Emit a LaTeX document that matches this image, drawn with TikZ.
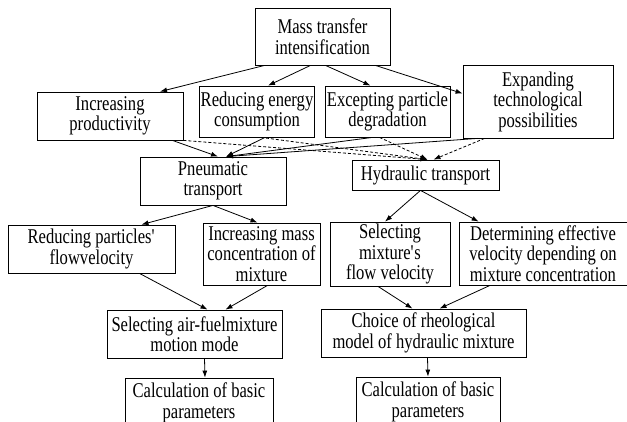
\documentclass[tikz,border=0pt]{standalone}
\usepackage{fontspec}
\setmainfont[FakeStretch=0.79]{Liberation Serif}
\usetikzlibrary{arrows.meta}

\begin{document}
\begin{tikzpicture}[x=1pt, y=-1pt, line width=0.8pt,
  box/.style={draw, align=center, inner sep=1pt, font=\fontsize{21}{20.5}\selectfont},
  arr/.style={-{Latex[length=7pt,width=5pt]}},
  darr/.style={arr, dashed, dash pattern=on 3pt off 2pt}]
  \useasboundingbox (0,0) rectangle (627,422);
  \node[box, minimum width=135pt, minimum height=57pt] (mass) at (322.5,36.5) {Mass transfer\\intensification};
  \node[box, minimum width=146pt, minimum height=48pt] (prod) at (110,116) {Increasing\\productivity};
  \node[box, minimum width=110pt, minimum height=51pt] (energy) at (257,111.5) {Reducing energy\\consumption};
  \node[box, minimum width=125pt, minimum height=51pt] (degr) at (387.5,111.5) {Excepting particle\\degradation};
  \node[box, minimum width=150pt, minimum height=73pt] (expand) at (538,101.5) {Expanding\\technological\\possibilities};
  \node[box, minimum width=146pt, minimum height=48pt] (pneu) at (213,181) {Pneumatic\\transport};
  \node[box, minimum width=147pt, minimum height=30pt] (hydr) at (425.5,175) {Hydraulic transport};
  \node[box, minimum width=167pt, minimum height=48pt] (flow) at (91.5,249) {Reducing particles\textquotesingle\\flowvelocity};
  \node[box, minimum width=117pt, minimum height=62pt] (conc) at (261.5,254) {Increasing mass\\concentration of\\mixture};
  \node[box, minimum width=120pt, minimum height=64pt] (selvel) at (390,254) {Selecting\\mixture\textquotesingle s\\flow velocity};
  \node[box, minimum width=168pt, minimum height=63pt] (effvel) at (543,253.5) {Determining effective\\velocity depending on\\mixture concentration};
  \node[box, minimum width=175pt, minimum height=48pt] (airmode) at (194.5,334) {Selecting air-fuelmixture\\motion mode};
  \node[box, minimum width=205pt, minimum height=48pt] (rheo) at (423.5,333) {Choice of rheological\\model of hydraulic mixture};
  \node[box, minimum width=148pt, minimum height=50pt] (calcA) at (199,403) {Calculation of basic\\parameters};
  \node[box, minimum width=144pt, minimum height=50pt] (calcB) at (428,402) {Calculation of basic\\parameters};

  \draw[arr] ([xshift=10pt]mass.south west) -- ([xshift=50pt]prod.north);
  \draw[arr] ([xshift=-12pt]mass.south) -- ([xshift=11pt]energy.north);
  \draw[arr] ([xshift=3pt]mass.south) -- ([xshift=-17pt]degr.north);
  \draw[arr] ([xshift=-15pt]mass.south east) -- ([yshift=8pt]expand.west);

  \draw[arr] ([xshift=-11pt]prod.south east) -- ([xshift=5pt]pneu.north);
  \draw[arr] ([xshift=8pt]energy.south) -- ([xshift=13pt]pneu.north);
  \draw[arr] ([xshift=-15pt]degr.south) -- ([xshift=13pt]pneu.north);
  \draw[arr] ([xshift=15pt]expand.south west) -- ([xshift=13pt]pneu.north);
  \draw[darr] (prod.south east) -- ([xshift=2pt]hydr.north);
  \draw[darr] ([xshift=4pt]energy.south) -- ([xshift=2pt]hydr.north);
  \draw[darr] ([xshift=-8pt]degr.south) -- ([xshift=2pt]hydr.north);
  \draw[darr] ([xshift=22pt]expand.south west) -- ([xshift=8pt]hydr.north);

  \draw[arr] (pneu.south) -- ([xshift=50pt]flow.north);
  \draw[arr] (pneu.south) -- ([xshift=-4pt]conc.north);
  \draw[arr] ([xshift=-5pt]hydr.south) -- ([xshift=-5pt]selvel.north);
  \draw[arr] ([xshift=-5pt]hydr.south) -- ([xshift=20pt]effvel.north west);

  \draw[arr] ([xshift=48pt]flow.south) -- ([xshift=13pt]airmode.north);
  \draw[arr] ([xshift=6pt]conc.south) -- ([xshift=31pt]airmode.north);
  \draw[arr] ([xshift=-12pt]selvel.south) -- ([xshift=-11pt]rheo.north);
  \draw[arr] ([xshift=-53pt]effvel.south) -- ([xshift=16pt]rheo.north);

  \draw[arr] ([xshift=10pt]airmode.south) -- ([xshift=6pt]calcA.north);
  \draw[arr] ([xshift=4pt]rheo.south) -- (calcB.north);
\end{tikzpicture}
\end{document}
